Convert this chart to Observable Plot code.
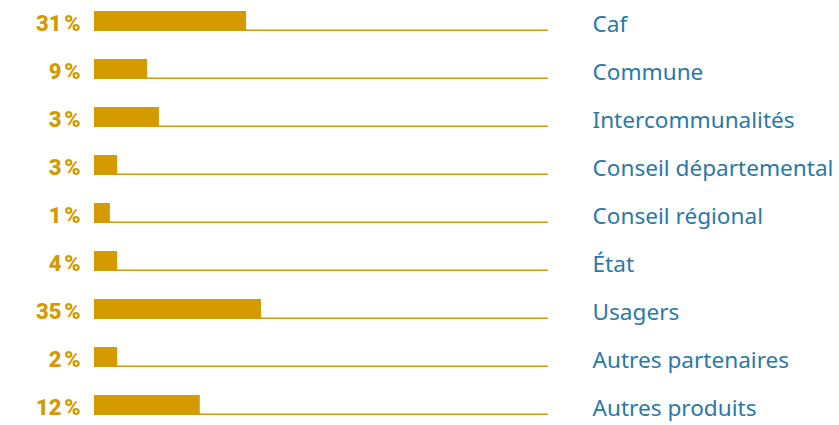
<!DOCTYPE html>
<html>
<head>
<meta charset="utf-8">
<script src="https://cdn.jsdelivr.net/npm/d3@7"></script>
<script src="https://cdn.jsdelivr.net/npm/@observablehq/plot@0.6"></script>
<style>
  html, body { margin: 0; padding: 0; background: #fff; }
  #chart { width: 839px; height: 425px; }
</style>
</head>
<body>
<div id="chart"></div>
<script>
// Categories (top to bottom)
const categories = ["Caf", "Commune", "Intercommunalités", "Conseil départemental", "Conseil régional", "État", "Usagers", "Autres partenaires", "Autres produits"];
// Percentages shown in labels
const shares = [31, 9, 3, 3, 1, 4, 35, 2, 12];
// Bar lengths as drawn in the picture (scale: full line = 100)
const barLengths = [33.5, 11.7, 14.3, 5.1, 3.5, 5.1, 36.8, 5.1, 23.3];

const data = categories.map((c, i) => ({category: c, share: shares[i], bar: barLengths[i]}));

const gold = "#d49b00";
const blue = "#2a78a8";

const chart = Plot.plot({
  width: 839,
  height: 425,
  margin: 0,
  x: {domain: [0, 100], range: [94, 548], axis: null},
  y: {domain: categories, range: [-17, 415], padding: 0, axis: null},
  marks: [
    Plot.barX(data, {y: "category", x1: 0, x2: 100, fill: gold, insetTop: 46.5, insetBottom: 0}),
    Plot.barX(data, {y: "category", x1: 0, x2: "bar", fill: gold, insetTop: 28, insetBottom: 0}),
    Plot.text(data, {y: "category", x: 0, text: d => d.share + "\u202F%", dx: -14, dy: 16, textAnchor: "end",
      fill: gold, fontSize: 22, fontWeight: 900, fontFamily: "Roboto, sans-serif", letterSpacing: -0.5}),
    Plot.text(data, {y: "category", x: 100, text: "category", dx: 44, dy: 17, textAnchor: "start",
      fill: blue, fontSize: 22.6, fontFamily: "'Noto Sans', sans-serif"})
  ]
});
document.getElementById("chart").appendChild(chart);
</script>
</body>
</html>
